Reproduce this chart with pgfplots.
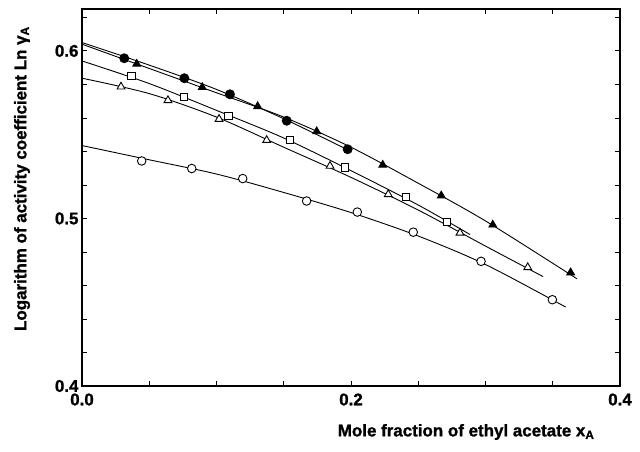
\documentclass[border=0pt]{standalone}
\usepackage{fontspec}
\setmainfont{Liberation Sans}[BoldFeatures={FakeBold=1.2}]
\usepackage{pgfplots}
\pgfplotsset{compat=1.18}
\begin{document}
\begin{tikzpicture}
\begin{axis}[
  name=ax,
  scale only axis, width=538bp, height=377bp,
  xmin=0, xmax=0.4, ymin=0.4, ymax=0.625,
  xtick={0,0.2,0.4}, xticklabels={0.0,0.2,0.4},
  minor xtick={0.05,0.1,0.15,0.25,0.3,0.35},
  ytick={0.4,0.5,0.6}, yticklabels={0.4,0.5,0.6},
  minor ytick={0.42,0.44,0.46,0.48,0.52,0.54,0.56,0.58,0.62},
  tick pos=both, tick align=inside,
  major tick length=5bp, minor tick length=5bp,
  tick style={black, line width=0.8pt},
  axis line style={line width=1.1pt},
  ticklabel style={font=\fontsize{17}{19}\selectfont\bfseries},
  xticklabel style={yshift=-4bp},
  /pgf/number format/assume math mode=true,
  label style={font=\fontsize{17}{19}\selectfont\bfseries},
  xlabel={Mole fraction of ethyl acetate x\textsubscript{A}},
  xlabel style={at={(axis description cs:0.714,-0.122)}, anchor=center},
  ylabel={Logarithm of activity coefficient Ln γ\textsubscript{A}},
  ylabel style={at={(axis description cs:-0.1115,0.55)}, anchor=center},
  every axis plot/.append style={black, line width=0.9pt},
]
% fitted curves
\addplot[smooth] coordinates {(0,0.605) (0.05,0.5915) (0.1,0.577) (0.15,0.5595) (0.2,0.540)};
\addplot[smooth] coordinates {(0,0.604) (0.05,0.5895) (0.1,0.575) (0.15,0.5605) (0.2,0.5425) (0.25,0.521) (0.3,0.4985) (0.368,0.464)};
\addplot[smooth] coordinates {(0,0.594) (0.05,0.5805) (0.1,0.5645) (0.15,0.548) (0.2,0.5285) (0.25,0.508) (0.2885,0.4904)};
\addplot[smooth] coordinates {(0,0.5837) (0.05,0.5745) (0.1,0.5605) (0.15,0.5425) (0.2,0.5245) (0.25,0.505) (0.3,0.4835) (0.3428,0.4653)};
\addplot[smooth] coordinates {(0,0.5435) (0.05,0.5350) (0.1,0.5265) (0.15,0.5155) (0.2,0.5035) (0.25,0.4895) (0.3,0.4725) (0.3596,0.4471)};
% data points
\addplot[only marks, mark=*, mark size=4.5pt, mark options={fill=black}] coordinates {
(0.0314,0.5956) (0.0761,0.5837) (0.110,0.5741) (0.1522,0.5583) (0.1975,0.5413)};
\addplot[only marks, mark=triangle*, mark size=4.5pt, mark options={fill=black}] coordinates {
(0.0407,0.5922) (0.0894,0.5783) (0.1306,0.5669) (0.1745,0.5519) (0.2236,0.5319) (0.2671,0.5136) (0.3054,0.4962) (0.3633,0.4677)};
\addplot[only marks, mark=square*, mark size=3.7pt, mark options={fill=white, line width=0.9pt}] coordinates {
(0.0367,0.5852) (0.0758,0.5725) (0.1088,0.5613) (0.1546,0.5467) (0.1955,0.5304) (0.2407,0.5128) (0.2712,0.4978)};
\addplot[only marks, mark=triangle*, mark size=4.5pt, mark options={fill=white, line width=0.9pt}] coordinates {
(0.029,0.5786) (0.0639,0.5705) (0.1019,0.5593) (0.1373,0.5467) (0.1844,0.5313) (0.2277,0.5144) (0.281,0.4914) (0.3314,0.4708)};
\addplot[only marks, mark=*, mark size=4.3pt, mark options={fill=white, line width=0.9pt}] coordinates {
(0.0444,0.5343) (0.0816,0.5298) (0.1195,0.5238) (0.167,0.5104) (0.2047,0.5038) (0.2463,0.4918) (0.2967,0.4744) (0.3497,0.4515)};
\end{axis}
\pgfresetboundingbox
\path ([shift={(-82bp,-66bp)}]ax.south west) rectangle ([shift={(20bp,9bp)}]ax.north east);
\end{tikzpicture}
\end{document}
